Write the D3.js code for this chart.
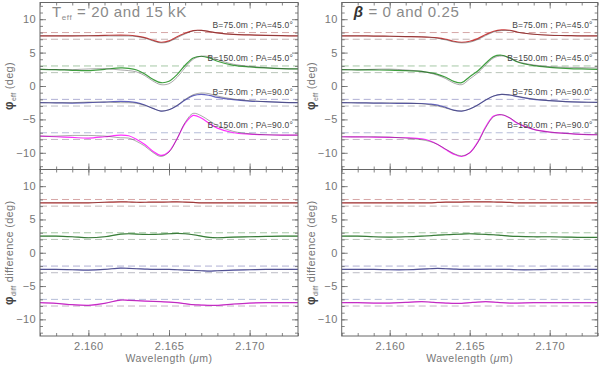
<!DOCTYPE html>
<html>
<head>
<meta charset="utf-8">
<script src="https://cdn.jsdelivr.net/npm/d3@7"></script>
<style>
  body { margin: 0; background: #fff; }
  svg { font-family: "Liberation Sans", Arial, sans-serif; }
  .tick line { stroke: #666; stroke-width: 0.8; }
  .tick text { fill: #777; font-size: 11px; letter-spacing: 0.4px; }
</style>
</head>
<body>
<svg id="chart" width="600" height="365"></svg>
<script>
// wavelength grid (micron) shared by every curve
const wavelength = [2.157, 2.158, 2.159, 2.160, 2.161, 2.162, 2.1625, 2.163, 2.1635, 2.164, 2.1645,
    2.165, 2.1655, 2.166, 2.1665, 2.167, 2.1675, 2.168, 2.169, 2.170, 2.171, 2.172, 2.173];

// vertical offsets of the four baselines, and the dashed reference levels
const offsets = [7.5, 2.5, -2.5, -7.5];
const refLevels = [8, 7, 3, 2, -2, -3, -7, -8];
const baselineLabels = ["B=75.0m ; PA=45.0°", "B=150.0m ; PA=45.0°", "B=75.0m ; PA=90.0°", "B=150.0m ; PA=90.0°"];
const xTicks = [2.160, 2.165, 2.170];
const yTicks = [-10, -5, 0, 5, 10];

// left column: Teff = 20 and 15 kK
const teffPhi1 = [7.5, 7.5, 7.5, 7.52, 7.58, 7.63, 7.6, 7.47, 7.25, 6.85, 6.55, 6.75, 7.38, 7.9, 8.3, 8.33, 8.15, 7.95, 7.72, 7.65, 7.58, 7.53, 7.5];
const teffPhi2 = [2.5, 2.45, 2.35, 2.3, 2.5, 2.7, 2.65, 2.4, 1.8, 1.0, 0.5, 0.7, 1.7, 3.1, 4.2, 4.45, 4.2, 3.7, 3.1, 2.85, 2.7, 2.6, 2.55];
const teffPhi3 = [-2.5, -2.52, -2.55, -2.5, -2.4, -2.3, -2.35, -2.5, -2.85, -3.35, -3.75, -3.55, -2.95, -2.1, -1.45, -1.25, -1.4, -1.7, -2.05, -2.25, -2.35, -2.45, -2.5];
const teffPhi4 = [-7.5, -7.6, -7.7, -7.8, -7.6, -7.35, -7.45, -8.0, -8.75, -9.75, -10.4, -9.8, -7.9, -5.6, -4.4, -4.8, -5.6, -6.3, -7.0, -7.2, -7.3, -7.35, -7.35];
const teffDiff1 = [7.5, 7.5, 7.5, 7.5, 7.58, 7.65, 7.62, 7.58, 7.58, 7.6, 7.6, 7.62, 7.65, 7.6, 7.55, 7.5, 7.5, 7.5, 7.5, 7.5, 7.5, 7.5, 7.5];
const teffDiff2 = [2.5, 2.5, 2.4, 2.25, 2.4, 2.8, 2.85, 2.8, 2.75, 2.75, 2.8, 2.85, 2.9, 2.85, 2.7, 2.5, 2.3, 2.25, 2.35, 2.4, 2.45, 2.5, 2.5];
const teffDiff3 = [-2.5, -2.5, -2.55, -2.6, -2.5, -2.3, -2.35, -2.4, -2.45, -2.5, -2.5, -2.5, -2.55, -2.6, -2.65, -2.7, -2.75, -2.7, -2.6, -2.55, -2.5, -2.5, -2.5];
const teffDiff4 = [-7.5, -7.6, -7.8, -7.9, -7.6, -7.1, -7.15, -7.2, -7.25, -7.3, -7.35, -7.4, -7.5, -7.65, -7.8, -7.85, -7.9, -7.9, -7.7, -7.55, -7.5, -7.5, -7.5];

// right column: beta = 0 and 0.25
const betaPhi1 = [7.5, 7.5, 7.48, 7.45, 7.4, 7.35, 7.3, 7.2, 7.0, 6.7, 6.55, 6.7, 7.1, 7.7, 8.2, 8.4, 8.35, 8.05, 7.75, 7.6, 7.55, 7.5, 7.5];
const betaPhi2 = [2.45, 2.42, 2.4, 2.38, 2.3, 2.2, 2.0, 1.75, 1.3, 0.7, 0.5, 1.4, 2.25, 3.4, 4.4, 4.6, 4.2, 3.6, 3.05, 2.8, 2.65, 2.55, 2.5];
const betaPhi3 = [-2.5, -2.52, -2.55, -2.58, -2.6, -2.62, -2.7, -2.85, -3.2, -3.6, -3.75, -3.45, -2.85, -2.1, -1.5, -1.25, -1.35, -1.6, -2.0, -2.2, -2.35, -2.42, -2.45];
const betaPhi4 = [-7.6, -7.62, -7.65, -7.7, -7.75, -7.9, -8.2, -8.75, -9.5, -10.2, -10.55, -10.0, -8.4, -6.1, -4.5, -4.3, -4.8, -5.6, -6.5, -6.9, -7.1, -7.25, -7.3];
const betaDiff1 = [7.5, 7.5, 7.5, 7.5, 7.5, 7.5, 7.5, 7.55, 7.6, 7.6, 7.6, 7.65, 7.65, 7.65, 7.62, 7.6, 7.55, 7.5, 7.5, 7.5, 7.5, 7.5, 7.5];
const betaDiff2 = [2.5, 2.5, 2.4, 2.35, 2.4, 2.5, 2.55, 2.65, 2.7, 2.75, 2.8, 2.85, 2.8, 2.75, 2.7, 2.6, 2.5, 2.45, 2.4, 2.4, 2.35, 2.3, 2.3];
const betaDiff3 = [-2.5, -2.5, -2.5, -2.55, -2.55, -2.45, -2.4, -2.35, -2.4, -2.45, -2.5, -2.5, -2.5, -2.5, -2.5, -2.5, -2.5, -2.55, -2.55, -2.5, -2.5, -2.5, -2.5];
const betaDiff4 = [-7.5, -7.5, -7.55, -7.55, -7.45, -7.35, -7.4, -7.5, -7.55, -7.6, -7.6, -7.5, -7.4, -7.35, -7.4, -7.5, -7.55, -7.55, -7.5, -7.5, -7.5, -7.5, -7.5];

const seriesColors = ["#d04040", "#3f9f3f", "#6464c0", "#ff30ff"];
const dashColors = ["#d6a6a6", "#c4b4b4", "#a6c8a6", "#b8c4b8", "#b0b0d4", "#bcbcc4", "#b4bcd8", "#c4b4c4"];

const svg = d3.select("#chart");

function drawColumn(cfg) {
    let x = d3.scaleLinear().domain([2.157, 2.173]).range([cfg.x0, cfg.x1]);
    let yTop = d3.scaleLinear().domain([-12.5, 12.5]).range([169.5, 2.5]);
    let yBot = d3.scaleLinear().domain([-12.5, 12.5]).range([336, 169.5]);

    [[yTop, false], [yBot, true]].forEach(function(p) {
        let y = p[0], isBottom = p[1];
        let g = svg.append("g");

        // dashed reference levels
        g.selectAll("line.ref").data(refLevels).enter().append("line")
            .attr("class", "ref")
            .attr("x1", cfg.x0).attr("x2", cfg.x1)
            .attr("y1", d => y(d)).attr("y2", d => y(d))
            .attr("stroke", (d, i) => dashColors[i])
            .attr("stroke-width", 1)
            .attr("stroke-dasharray", "7,4");

        let line = d3.line()
            .x((d, i) => x(wavelength[i]))
            .y(d => y(d))
            .curve(d3.curveCatmullRom);

        offsets.forEach(function(off, k) {
            if (isBottom) {
                g.append("path").attr("d", line(cfg.diff[k]))
                    .attr("fill", "none").attr("stroke", seriesColors[k]).attr("stroke-width", 1.2);
                g.append("path").attr("d", line(cfg.diff[k]))
                    .attr("fill", "none").attr("stroke", "#333").attr("stroke-width", 0.6).attr("opacity", 0.6);
            } else {
                // second model = first model minus the plotted difference
                let other = cfg.phi[k].map((v, i) => v - (cfg.diff[k][i] - off));
                g.append("path").attr("d", line(cfg.phi[k]))
                    .attr("fill", "none").attr("stroke", seriesColors[k]).attr("stroke-width", 1.2);
                g.append("path").attr("d", line(other))
                    .attr("fill", "none").attr("stroke", "#333").attr("stroke-width", 0.6).attr("opacity", 0.7);
                g.append("text")
                    .attr("x", cfg.x1 - 5)
                    .attr("y", y(off + 1.2))
                    .attr("text-anchor", "end")
                    .attr("font-size", "8.5px")
                    .attr("letter-spacing", "0.2px")
                    .attr("fill", "#444")
                    .text(baselineLabels[k]);
            }
        });

        let yr = y.range();
        // y axes
        let left = g.append("g").attr("transform", "translate(" + cfg.x0 + ",0)")
            .call(d3.axisLeft(y).tickValues(yTicks).tickSize(-6).tickPadding(4));
        left.append("g").call(d3.axisLeft(y).tickValues(d3.range(-12, 13)).tickSize(-3).tickFormat(""));
        let right = g.append("g").attr("transform", "translate(" + cfg.x1 + ",0)")
            .call(d3.axisRight(y).tickValues(yTicks).tickSize(-6).tickFormat(""));
        right.append("g").call(d3.axisRight(y).tickValues(d3.range(-12, 13)).tickSize(-3).tickFormat(""));
        // x axes
        let bottom = g.append("g").attr("transform", "translate(0," + yr[0] + ")")
            .call(d3.axisBottom(x).tickValues(xTicks).tickSize(-6).tickPadding(6)
                .tickFormat(isBottom ? d3.format(".3f") : ""));
        bottom.append("g").call(d3.axisBottom(x).tickValues(d3.range(2.157, 2.1735, 0.001)).tickSize(-3).tickFormat(""));
        let top = g.append("g").attr("transform", "translate(0," + yr[1] + ")")
            .call(d3.axisTop(x).tickValues(xTicks).tickSize(-6).tickFormat(""));
        top.append("g").call(d3.axisTop(x).tickValues(d3.range(2.157, 2.1735, 0.001)).tickSize(-3).tickFormat(""));
        g.selectAll(".domain").remove();

        g.append("rect")
            .attr("x", cfg.x0).attr("y", yr[1])
            .attr("width", cfg.x1 - cfg.x0).attr("height", yr[0] - yr[1])
            .attr("fill", "none").attr("stroke", "#666").attr("stroke-width", 1);

        // y axis title
        let lab = g.append("text")
            .attr("transform", "translate(" + (cfg.x0 - 27) + "," + ((yr[0] + yr[1]) / 2) + ") rotate(-90)")
            .attr("text-anchor", "middle")
            .attr("font-size", "11px")
            .attr("letter-spacing", "0.3px")
            .attr("fill", "#777");
        lab.append("tspan").attr("font-weight", "bold").attr("fill", "#444").attr("font-size", "12px").text("φ");
        lab.append("tspan").attr("font-size", "7px").attr("dy", 3).text(isBottom ? "diff" : "eff");
        lab.append("tspan").attr("dy", -3).text(isBottom ? " difference (deg)" : " (deg)");
    });

    // x axis title
    let xl = svg.append("text")
        .attr("x", (cfg.x0 + cfg.x1) / 2).attr("y", 362)
        .attr("text-anchor", "middle")
        .attr("font-size", "10.5px").attr("fill", "#777")
        .attr("letter-spacing", "0.5px");
    xl.append("tspan").text("Wavelength (");
    xl.append("tspan").attr("font-style", "italic").text("μ");
    xl.append("tspan").text("m)");

    // panel title
    let t = svg.append("text").attr("x", cfg.x0 + 12).attr("y", 17)
        .attr("font-size", "15px").attr("fill", "#8a8a8a").attr("letter-spacing", "0.6px");
    if (cfg.beta) {
        t.append("tspan").attr("font-weight", "bold").attr("fill", "#333").attr("font-style", "italic").text("β");
        t.append("tspan").text(" = 0 and 0.25");
    } else {
        t.append("tspan").text("T");
        t.append("tspan").attr("font-size", "8px").attr("dy", 3).text("eff");
        t.append("tspan").attr("dy", -3).text(" = 20 and 15 kK");
    }
}

drawColumn({
    x0: 40, x1: 298, beta: false,
    phi: [teffPhi1, teffPhi2, teffPhi3, teffPhi4],
    diff: [teffDiff1, teffDiff2, teffDiff3, teffDiff4]
});
drawColumn({
    x0: 341.7, x1: 597.7, beta: true,
    phi: [betaPhi1, betaPhi2, betaPhi3, betaPhi4],
    diff: [betaDiff1, betaDiff2, betaDiff3, betaDiff4]
});
</script>
</body>
</html>
